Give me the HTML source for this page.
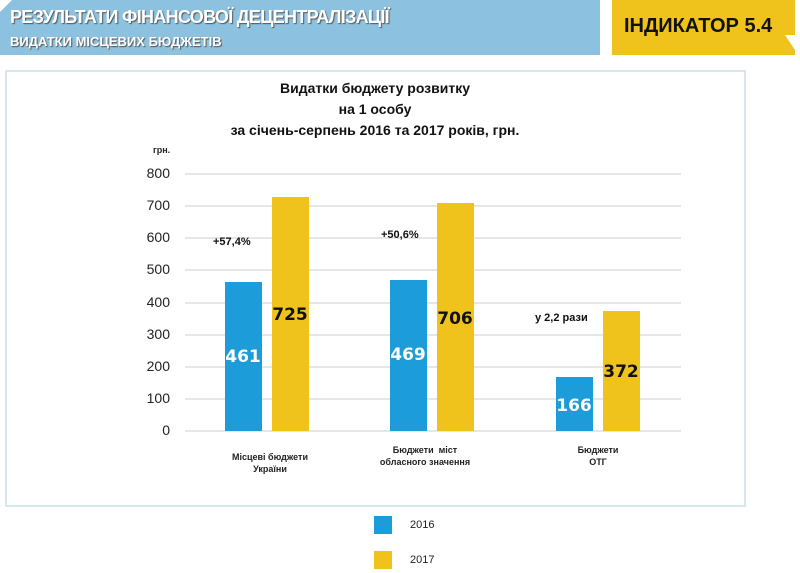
<!DOCTYPE html><html><head><meta charset="utf-8"><style>
body{margin:0;width:800px;height:573px;background:#fff;position:relative;overflow:hidden;font-family:"Liberation Sans",sans-serif}
.a{position:absolute}
.g{position:absolute;left:185px;width:496px;height:2px;background:#e6e6e6}
.yl{position:absolute;left:130px;width:40px;text-align:right;font-size:14px;color:#222}
.b{position:absolute;width:37px;background:#1c9cd8}
.y{position:absolute;width:37px;background:#f0c31c}
.v{position:absolute;width:60px;text-align:center;font-size:17px;font-weight:bold;font-family:"DejaVu Sans",sans-serif}
.c{position:absolute;text-align:center;font-size:9px;font-weight:bold;color:#222;line-height:12px}
</style></head><body>
<div class="a" style="left:0;top:0;width:600px;height:55px;background:#8cc2df"></div>
<div class="a" style="left:0;top:0;width:0;height:0;border-top:12px solid #fff;border-right:12px solid transparent"></div>
<div class="a" style="left:10px;top:7px;font-size:18px;font-weight:bold;color:#fff;text-shadow:1px 1px 1px #555;letter-spacing:-0.7px">РЕЗУЛЬТАТИ ФІНАНСОВОЇ ДЕЦЕНТРАЛІЗАЦІЇ</div>
<div class="a" style="left:10px;top:34px;font-size:13px;font-weight:bold;color:#fff;text-shadow:1px 1px 1px #555">ВИДАТКИ МІСЦЕВИХ БЮДЖЕТІВ</div>
<div class="a" style="left:612px;top:0;width:183px;height:55px;background:#f0c31c"></div>
<div class="a" style="left:785px;top:35px;width:0;height:0;border-top:18px solid #fff;border-left:12px solid transparent"></div>
<div class="a" style="left:624px;top:15px;font-size:20px;font-weight:bold;color:#111">ІНДИКАТОР 5.4</div>
<div class="a" style="left:5px;top:70px;width:737px;height:433px;border:2px solid #d6e7ee"></div>
<div class="a" style="left:180px;top:78px;width:390px;text-align:center;font-size:14px;font-weight:bold;line-height:21px;color:#111">Видатки бюджету розвитку<br>на 1 особу<br>за січень-серпень 2016 та 2017 років, грн.</div>
<div class="a" style="left:153px;top:145px;font-size:9px;font-weight:bold;color:#222">грн.</div>
<div class="g" style="top:173px"></div><div class="g" style="top:205px"></div><div class="g" style="top:237px"></div><div class="g" style="top:269px"></div><div class="g" style="top:302px"></div><div class="g" style="top:334px"></div><div class="g" style="top:366px"></div><div class="g" style="top:398px"></div><div class="g" style="top:430px"></div>
<div class="yl" style="top:165px">800</div><div class="yl" style="top:197px">700</div><div class="yl" style="top:229px">600</div><div class="yl" style="top:261px">500</div><div class="yl" style="top:294px">400</div><div class="yl" style="top:326px">300</div><div class="yl" style="top:358px">200</div><div class="yl" style="top:390px">100</div><div class="yl" style="top:422px">0</div>
<div class="b" style="left:225px;top:282px;height:149px"></div>
<div class="y" style="left:272px;top:197px;height:234px"></div>
<div class="b" style="left:390px;top:280px;height:151px"></div>
<div class="y" style="left:437px;top:203px;height:228px"></div>
<div class="b" style="left:556px;top:377px;height:54px"></div>
<div class="y" style="left:603px;top:311px;height:120px"></div>
<div class="v" style="left:213px;top:347px;color:#fff">461</div>
<div class="v" style="left:260px;top:305px;color:#111">725</div>
<div class="v" style="left:378px;top:345px;color:#fff">469</div>
<div class="v" style="left:425px;top:309px;color:#111">706</div>
<div class="v" style="left:544px;top:396px;color:#fff">166</div>
<div class="v" style="left:591px;top:362px;color:#111">372</div>
<div class="a" style="left:213px;top:236px;font-size:11px;font-weight:bold;color:#111">+57,4%</div>
<div class="a" style="left:381px;top:229px;font-size:11px;font-weight:bold;color:#111">+50,6%</div>
<div class="a" style="left:535px;top:312px;font-size:11px;font-weight:bold;color:#111">у 2,2 рази</div>
<div class="c" style="left:220px;top:451px;width:100px">Місцеві бюджети<br>України</div>
<div class="c" style="left:370px;top:444px;width:110px">Бюджети &nbsp;міст<br>обласного значення</div>
<div class="c" style="left:568px;top:444px;width:60px">Бюджети<br>ОТГ</div>
<div class="a" style="left:374px;top:516px;width:18px;height:18px;background:#1c9cd8"></div>
<div class="a" style="left:410px;top:519px;font-size:11px;color:#222">2016</div>
<div class="a" style="left:374px;top:551px;width:18px;height:18px;background:#f0c31c"></div>
<div class="a" style="left:410px;top:554px;font-size:11px;color:#222">2017</div>
</body></html>
